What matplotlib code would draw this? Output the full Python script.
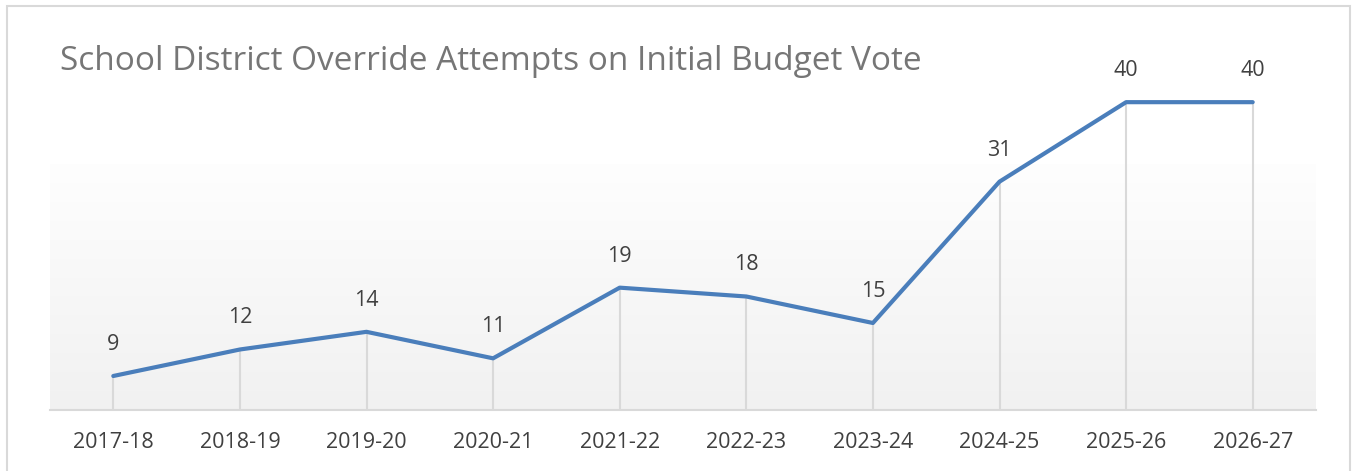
import numpy as np
import matplotlib
matplotlib.use("Agg")
import matplotlib.pyplot as plt
from matplotlib.patches import Rectangle

# datos del grafico
years = ["2017-18", "2018-19", "2019-20", "2020-21", "2021-22",
         "2022-23", "2023-24", "2024-25", "2025-26", "2026-27"]
attempts = [9, 12, 14, 11, 19, 18, 15, 31, 40, 40]
title = "School District Override Attempts on Initial Budget Vote"

plt.rcParams['font.family'] = ['Open Sans', 'DejaVu Sans']

W, H = 1353, 471
fig = plt.figure(figsize=(W / 100, H / 100), dpi=100)
fig.patch.set_facecolor('white')

# marco exterior gris
fig.add_artist(Rectangle((7 / W, -0.02), (1350 - 7) / W, (H - 6) / H + 0.02,
                         transform=fig.transFigure, fill=False,
                         edgecolor='#d9d9d9', lw=1.5))

ax = fig.add_axes([50 / W, (H - 410) / H, (1316 - 50) / W, (410 - 58) / H])
x = np.arange(len(years))
ymin, ymax = 5.15, 45

# degradado del fondo
grad = np.linspace(0, 1, 256).reshape(-1, 1)
ax.imshow(grad, extent=(-0.5, len(years) - 0.5, ymin, 32.9), origin='lower',
          aspect='auto', cmap=matplotlib.colors.LinearSegmentedColormap.from_list(
              'g', ['#f1f1f1', '#fefefe']), zorder=0)

ax.vlines(x, ymin, attempts, color='#d9d9d9', lw=1.5, zorder=1)
ax.plot(x, attempts, color='#4a7ebb', lw=3, solid_capstyle='round',
        solid_joinstyle='round', zorder=3)

for xi, v in zip(x, attempts):
    ax.annotate(str(v), (xi, v), xytext=(0, 21), textcoords='offset pixels',
                ha='center', va='bottom', fontsize=15.5, color='#404040')

ax.set_xlim(-0.5, len(years) - 0.5)
ax.set_ylim(ymin, ymax)
ax.set_xticks(x)
ax.set_xticklabels(years, fontsize=15.5, color='#404040')
ax.set_yticks([])
ax.tick_params(axis='x', length=0, pad=16)
for s in ['top', 'left', 'right']:
    ax.spines[s].set_visible(False)
ax.spines['bottom'].set_color('#d9d9d9')
ax.spines['bottom'].set_linewidth(1.5)
ax.set_facecolor('none')

fig.text(60 / W, (H - 62) / H, title, fontsize=24, color='#767676',
         ha='left', va='center')

fig.savefig('out.png', dpi=100)
